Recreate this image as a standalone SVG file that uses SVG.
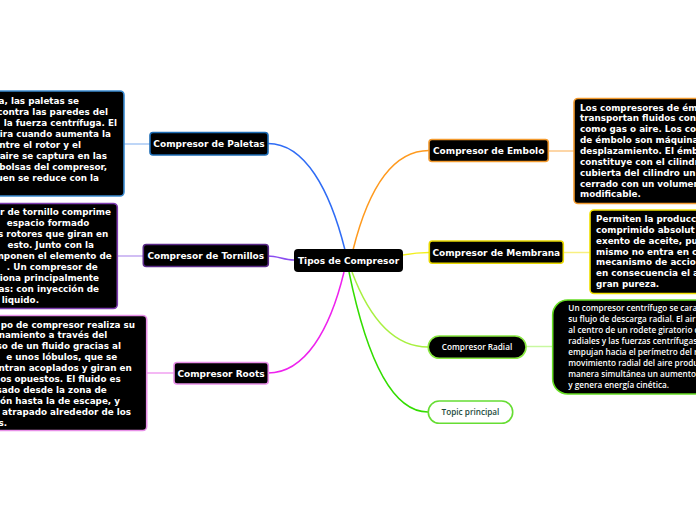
<svg xmlns="http://www.w3.org/2000/svg" width="696" height="520" viewBox="0 0 696 520">
<style>
.lbl{font-family:"DejaVu Sans",Verdana,sans-serif;font-weight:bold;font-size:9px;fill:#fff;text-anchor:middle}
.dsc{font-family:"DejaVu Sans",Verdana,sans-serif;font-weight:bold;font-size:8.8px;fill:#fff}
.end{text-anchor:end}
.rad{font-family:"Open Sans","Liberation Sans",sans-serif;font-weight:600;font-size:8.2px;fill:#fff}
.box{fill:#000;stroke-width:1.6}
.c{fill:none;stroke-width:1.5}
</style>
<rect width="696" height="520" fill="#fff"/>
<g id="connectors">
<path class="c" stroke="#2f6cf5" d="M345,250 C330,190 305,143.5 268,143.5"/>
<path class="c" stroke="#ff9a1e" d="M353,250 C368,190 392,150.5 429,150.5"/>
<path class="c" stroke="#8a4cf0" d="M294,260 C284,260 278,256 268,256"/>
<path class="c" stroke="#f2f020" d="M403,255 C414,253 420,252.5 429,252.5"/>
<path class="c" stroke="#ee22ee" d="M344,272 C330,330 305,373 268,373"/>
<path class="c" stroke="#a8f040" d="M352,272 C370,320 395,347 428,347"/>
<path class="c" stroke="#33dd00" d="M349,272 C365,350 390,412 428,412"/>
<path class="c" stroke="#a8c8f4" d="M124,144 H150"/>
<path class="c" stroke="#c2a8f0" d="M117,256 H143"/>
<path class="c" stroke="#f0a0f0" d="M147,373 H174"/>
<path class="c" stroke="#fcc88a" d="M548,151 H574"/>
<path class="c" stroke="#f8f080" d="M563,252.5 H590"/>
<path class="c" stroke="#c8f8a0" d="M526,346.5 H553"/>
</g>
<g id="center">
<rect x="294" y="249" width="109" height="23" rx="4" fill="#000"/>
<text class="lbl" x="348.5" y="264.3">Tipos de Compresor</text>
</g>
<g id="paletas">
<rect class="box" x="150" y="132.5" width="118" height="22.5" rx="3" stroke="#1d6cb5"/>
<text class="lbl" x="209" y="147">Compresor de Paletas</text>
</g>
<g id="paletas-desc">
<rect class="box" x="-60" y="91" width="184" height="105" rx="4" stroke="#3a8ad0"/>
<text class="dsc end"><tspan x="79" y="104">a, las paletas se</tspan><tspan x="108" y="115">contra las paredes del</tspan><tspan x="117" y="126">la fuerza centrífuga. El</tspan><tspan x="111" y="136.5">ira cuando aumenta la</tspan><tspan x="81" y="147.5">ntre el rotor y el</tspan><tspan x="107" y="158.5">aire se captura en las</tspan><tspan x="107" y="169.5">bolsas del compresor,</tspan><tspan x="99" y="180.5">uen se reduce con la</tspan></text>
</g>
<g id="tornillos">
<rect class="box" x="143.3" y="244.5" width="125" height="22" rx="3" stroke="#5a2a88"/>
<text class="lbl" x="205.8" y="259">Compresor de Tornillos</text>
</g>
<g id="tornillos-desc">
<rect class="box" x="-60" y="203.5" width="177.3" height="105" rx="4" stroke="#7e3cb0"/>
<text class="dsc end"><tspan x="111" y="215">r de tornillo comprime</tspan><tspan x="89.3" y="226">espacio formado</tspan><tspan x="108.3" y="237">s rotores que giran en</tspan><tspan x="94" y="248">esto. Junto con la</tspan><tspan x="111.7" y="259">mponen el elemento de</tspan><tspan x="97.7" y="270">. Un compresor de</tspan><tspan x="99" y="281">iona principalmente</tspan><tspan x="99" y="292">as: con inyección de</tspan><tspan x="39" y="303">liquido.</tspan></text>
</g>
<g id="roots">
<rect class="box" x="174" y="362.5" width="94.3" height="21.5" rx="3" stroke="#e890e8"/>
<text class="lbl" x="221" y="376.5">Compresor Roots</text>
</g>
<g id="roots-desc">
<rect class="box" x="-60" y="315.5" width="206.7" height="115" rx="4" stroke="#e890e8"/>
<text class="dsc end"><tspan x="135" y="327.5">po de compresor realiza su</tspan><tspan x="107.3" y="338.4">namiento a través del</tspan><tspan x="121" y="349.3">so de un fluido gracias al</tspan><tspan x="117.3" y="360.2">e unos lóbulos, que se</tspan><tspan x="131.7" y="371.1">ntran acoplados y giran en</tspan><tspan x="120.7" y="382">os opuestos. El fluido es</tspan><tspan x="106.7" y="392.9">sado desde la zona de</tspan><tspan x="120" y="403.8">ón hasta la de escape, y</tspan><tspan x="131" y="414.7">atrapado alrededor de los</tspan><tspan x="7" y="425.6">s.</tspan></text>
</g>
<g id="embolo">
<rect class="box" x="429" y="139.5" width="119.3" height="22" rx="3" stroke="#f39a2e"/>
<text class="lbl" x="488.7" y="153.5">Compresor de Embolo</text>
</g>
<g id="embolo-desc">
<rect class="box" x="574" y="98.5" width="180" height="105" rx="4" stroke="#f39a2e"/>
<text class="dsc"><tspan x="580" y="110.5">Los compresores de ém</tspan><tspan x="580" y="121.4">transportan fluidos con</tspan><tspan x="580" y="132.2">como gas o aire. Los co</tspan><tspan x="580" y="143.1">de émbolo son máquina</tspan><tspan x="580" y="153.9">desplazamiento. El émb</tspan><tspan x="580" y="164.8">constituye con el cilindr</tspan><tspan x="580" y="175.6">cubierta del cilindro un</tspan><tspan x="580" y="186.5">cerrado con un volumen</tspan><tspan x="580" y="197.3">modificable.</tspan></text>
</g>
<g id="membrana">
<rect class="box" x="429.3" y="241" width="134" height="22.3" rx="3" stroke="#e8d800"/>
<text class="lbl" x="496.3" y="255.5">Compresor de Membrana</text>
</g>
<g id="membrana-desc">
<rect class="box" x="590" y="210" width="170" height="83.5" rx="4" stroke="#f0e000"/>
<text class="dsc"><tspan x="596" y="222">Permiten la producci</tspan><tspan x="596" y="232.9">comprimido absolut</tspan><tspan x="596" y="243.7">exento de aceite, pu</tspan><tspan x="596" y="254.6">mismo no entra en c</tspan><tspan x="596" y="265.4">mecanismo de accio</tspan><tspan x="596" y="276.3">en consecuencia el a</tspan><tspan x="596" y="287.1">gran pureza.</tspan></text>
</g>
<g id="radial">
<rect class="box" x="428.3" y="336" width="97.7" height="22.3" rx="11" stroke="#88e840"/>
<text class="rad" x="477" y="349.5" text-anchor="middle">Compresor Radial</text>
</g>
<g id="radial-desc">
<rect class="box" x="552.7" y="300" width="200" height="94" rx="15" stroke="#66dd22"/>
<text class="rad"><tspan x="568.3" y="311">Un compresor centrífugo se cara</tspan><tspan x="568.3" y="322">su flujo de descarga radial. El air</tspan><tspan x="568.3" y="333">al centro de un rodete giratorio c</tspan><tspan x="568.3" y="344">radiales y las fuerzas centrífugas</tspan><tspan x="568.3" y="355">empujan hacia el perímetro del r</tspan><tspan x="568.3" y="366">movimiento radial del aire produ</tspan><tspan x="568.3" y="377">manera simultánea un aumento</tspan><tspan x="568.3" y="388">y genera energía cinética.</tspan></text>
</g>
<g id="topic">
<rect x="428.3" y="401" width="84.4" height="22.3" rx="11" fill="#fff" stroke="#66dd33" stroke-width="1.6"/>
<text class="rad" x="470.5" y="414.5" text-anchor="middle" style="fill:#1d4a3c">Topic principal</text>
</g>
</svg>
